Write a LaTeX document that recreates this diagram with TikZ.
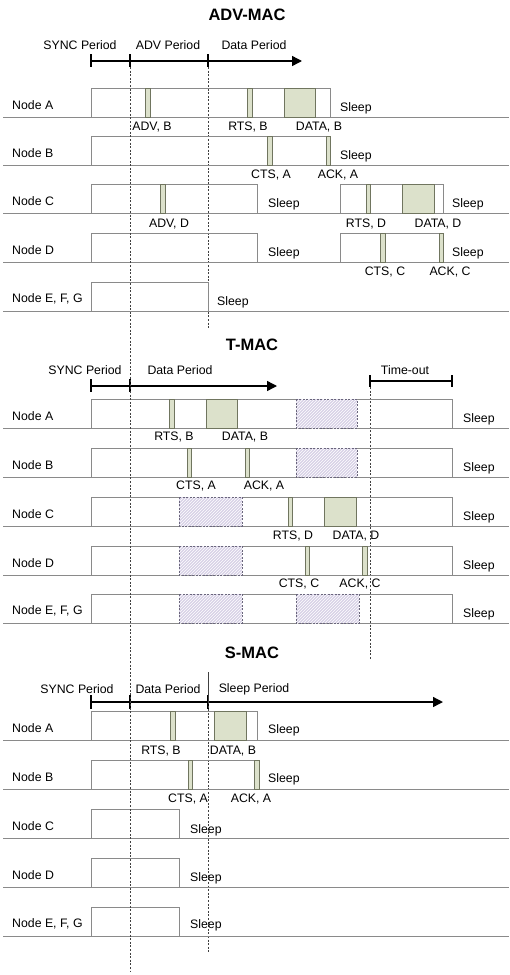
\documentclass[tikz,border=0pt]{standalone}
\usepackage{fontspec}
\setmainfont{Liberation Sans}
\usetikzlibrary{arrows.meta,patterns}
\definecolor{boxline}{HTML}{8A8A8A}
\definecolor{pktfill}{HTML}{DCE1CB}
\definecolor{pktline}{HTML}{70755F}
\definecolor{navfill}{HTML}{D8D2E6}
\definecolor{navline}{HTML}{6A667C}
\tikzset{
  awake/.style={draw=boxline, line width=0.8pt},
  pkt/.style={draw=pktline, fill=pktfill, line width=0.8pt},
  nav/.style={draw=navline, fill=navfill, line width=0.7pt, dash pattern=on 2pt off 1.5pt},
  rowsep/.style={draw=boxline, line width=0.8pt},
  guide/.style={draw=black!75, line width=0.5pt, dash pattern=on 2pt off 1.6pt},
  tline/.style={line width=1.4pt, -{Triangle[length=10pt,width=10pt]}},
  tbar/.style={line width=1.4pt},
  title/.style={font=\fontsize{16.5}{18}\selectfont\bfseries, inner sep=0pt},
  txt/.style={font=\fontsize{12.3}{14}\selectfont, inner sep=0pt},
  nodename/.style={txt, anchor=west},
  sleeplab/.style={txt, anchor=west},
}
% one station row: top edge of the row, name
\newcommand{\stationrow}[3]{%
  \node[nodename] (#1) at (12,#2+17) {#3};
  \draw[rowsep] (3,#2+29) -- (509,#2+29);}
\newcommand{\awakebox}[3]{\draw[awake] (#1,#3) rectangle (#2,#3+29);}
\newcommand{\packet}[3]{\draw[pkt] (#1,#3) rectangle (#2,#3+29);}
\newcommand{\navbox}[3]{%
  \fill[navfill] (#1,#3) rectangle (#2,#3+29);
  \path[pattern=north east lines, pattern color=white] (#1,#3) rectangle (#2,#3+29);
  \draw[nav, fill=none] (#1,#3) rectangle (#2,#3+29);}

\begin{document}
\begin{tikzpicture}[x=1pt, y=-1pt]
  \useasboundingbox (0,0) rectangle (509,975);
  % ---------------- ADV-MAC ----------------
  \node[title] (advtitle) at (247,15) {ADV-MAC};
  \node[txt] (advsync) at (80,45) {SYNC Period};
  \node[txt] (advadv) at (168,45) {ADV Period};
  \node[txt] (advdata) at (254,45) {Data Period};
  \draw[tline] (91,61) -- (302,61);
  \foreach \x in {91,130,208} \draw[tbar] (\x,54) -- (\x,67);
  \draw[guide] (208,67) -- (208,329);
  % rows
  \foreach \t/\n/\s in {88/advA/Node A,136/advB/Node B,184/advC/Node C,233/advD/Node D,282/advE/{Node E, F, G}}
    \stationrow{\n}{\t}{\s};
  \awakebox{91}{330}{88} \awakebox{91}{330}{136}
  \awakebox{91}{257}{184} \awakebox{340}{443}{184}
  \awakebox{91}{257}{233} \awakebox{340}{443}{233}
  \awakebox{91}{208}{282}
  \packet{145}{150}{88} \packet{247}{252}{88} \packet{284}{315}{88}
  \packet{267}{272}{136} \packet{326}{330}{136}
  \packet{160}{165}{184} \packet{366}{370}{184} \packet{402}{434}{184}
  \packet{380}{385}{233} \packet{439}{443}{233}
  \foreach \x/\y/\n in {340/108/advsA,340/156/advsB,268/204/advsC,452/204/advsCC,268/253/advsD,452/253/advsDD,217/302/advsE}
    \node[sleeplab] (\n) at (\x,\y) {Sleep};
  \foreach \x/\y/\n/\s in {152/127/advlA/{ADV, B},248/127/advlB/{RTS, B},319/127/advlC/{DATA, B},
      271/175/advlD/{CTS, A},338/175/advlE/{ACK, A},
      169/224/advlF/{ADV, D},366/224/advlG/{RTS, D},438/224/advlH/{DATA, D},
      385/272/advlI/{CTS, C},450/272/advlJ/{ACK, C}}
    \node[txt] (\n) at (\x,\y) {\s};
  % ---------------- T-MAC ----------------
  \node[title] (ttitle) at (252,345) {T-MAC};
  \node[txt] (tsync) at (85,370) {SYNC Period};
  \node[txt] (tdata) at (180,370) {Data Period};
  \node[txt] (tout) at (405,370) {Time-out};
  \draw[tline] (91,386) -- (277,386);
  \foreach \x in {91,130} \draw[tbar] (\x,379) -- (\x,392);
  \draw[tbar] (370,381) -- (452,381);
  \foreach \x in {370,452} \draw[tbar] (\x,375) -- (\x,387);
  \draw[guide] (370,387) -- (370,660);
  \foreach \t/\n/\s in {399/tA/Node A,448/tB/Node B,497/tC/Node C,546/tD/Node D,594/tE/{Node E, F, G}}
    {\stationrow{\n}{\t}{\s}
     \awakebox{91}{452}{\t}
     \node[sleeplab] (\n s) at (463,\t+20) {Sleep};}
  \packet{169}{174}{399} \packet{206}{237}{399} \navbox{296}{357}{399}
  \packet{187}{191}{448} \packet{245}{249}{448} \navbox{296}{357}{448}
  \navbox{179}{242}{497} \packet{288}{292}{497} \packet{324}{356}{497}
  \navbox{179}{242}{546} \packet{305}{309}{546} \packet{362}{367}{546}
  \navbox{179}{242}{594} \navbox{296}{359}{594}
  \foreach \x/\y/\n/\s in {174/437/tlA/{RTS, B},245/437/tlB/{DATA, B},
      196/486/tlC/{CTS, A},264/486/tlD/{ACK, A},
      293/536/tlE/{RTS, D},356/536/tlF/{DATA, D},
      299/584/tlG/{CTS, C},360/584/tlH/{ACK, C}}
    \node[txt] (\n) at (\x,\y) {\s};
  % ---------------- S-MAC ----------------
  \node[title] (stitle) at (252,653) {S-MAC};
  \node[txt] (ssync) at (77,689) {SYNC Period};
  \node[txt] (sdata) at (168,689) {Data Period};
  \node[txt] (ssleep) at (254,689) {Sleep Period};
  \draw[tline] (91,702) -- (443,702);
  \foreach \x in {91,130,208} \draw[tbar] (\x,695) -- (\x,709);
  \draw[black!75, line width=0.5pt] (208,672) -- (208,702);
  \draw[guide] (208,702) -- (208,953);
  \foreach \t/\n/\s in {711/sA/Node A,760/sB/Node B,809/sC/Node C,858/sD/Node D,907/sE/{Node E, F, G}}
    {\stationrow{\n}{\t}{\s}}
  \awakebox{91}{257}{711} \awakebox{91}{257}{760}
  \awakebox{91}{179}{809} \awakebox{91}{179}{858} \awakebox{91}{179}{907}
  \packet{170}{175}{711} \packet{214}{246}{711}
  \packet{188}{192}{760} \packet{254}{259}{760}
  \node[sleeplab] (smA) at (268,730) {Sleep};
  \node[sleeplab] (smB) at (268,779) {Sleep};
  \node[sleeplab] (smC) at (190,830) {Sleep};
  \node[sleeplab] (smD) at (190,878) {Sleep};
  \node[sleeplab] (smE) at (190,925) {Sleep};
  \foreach \x/\y/\n/\s in {161/751/slA/{RTS, B},233/751/slB/{DATA, B},
      188/799/slC/{CTS, A},251/799/slD/{ACK, A}}
    \node[txt] (\n) at (\x,\y) {\s};
  % common sync boundary
  \draw[guide] (130,67) -- (130,971);
\end{tikzpicture}
\end{document}
